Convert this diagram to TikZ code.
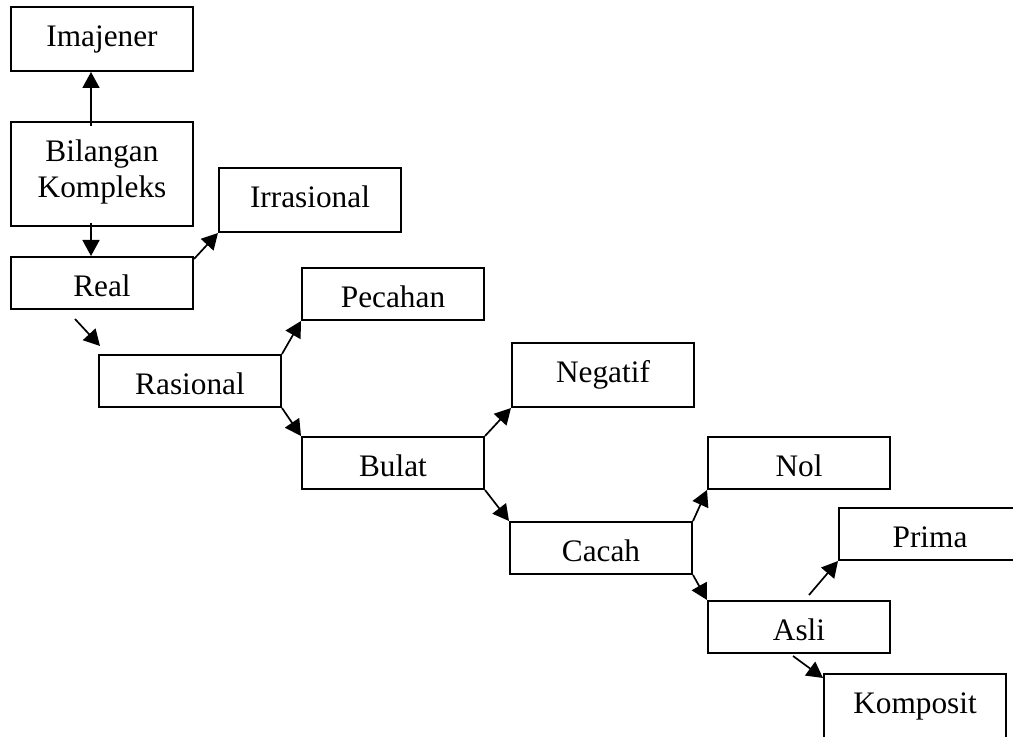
\documentclass[tikz,border=0pt]{standalone}
\usepackage{fontspec}
\setmainfont{Liberation Serif}
\usetikzlibrary{arrows.meta}

\begin{document}
\begin{tikzpicture}[
  x=0.5pt, y=-0.5pt,
  font=\fontsize{15.65}{18}\selectfont,
  box/.style={draw, line width=1pt, anchor=north west, inner sep=0pt, align=center,
    minimum width=91pt, minimum height=26pt, text height=19.7pt, text depth=6.3pt},
  tallbox/.style={box, minimum height=32pt, text depth=12.3pt},
  arrow/.style={-{Triangle[length=8pt,width=8.5pt]}, line width=0.85pt}
]
\useasboundingbox (0,0) rectangle (1013,737);
\clip (0,0) rectangle (1013,737);

\node[tallbox] (imajener) at (10,6) {Imajener};
\node[box, minimum height=52pt, text height=37.7pt, text depth=14.3pt] (bilangan) at (10,121) {Bilangan\\Kompleks};
\node[box] (real) at (10,256) {Real};
\node[tallbox] (irrasional) at (218,167) {Irrasional};
\node[box] (pecahan) at (301,267) {Pecahan};
\node[box] (rasional) at (98,354) {Rasional};
\node[box] (bulat) at (301,436) {Bulat};
\node[tallbox] (negatif) at (511,342) {Negatif};
\node[box] (cacah) at (509,521) {Cacah};
\node[box] (nol) at (707,436) {Nol};
\node[box] (prima) at (838,507) {Prima};
\node[box] (asli) at (707,600) {Asli};
\node[tallbox] (komposit) at (823,673) {Komposit};

\draw[arrow] ([xshift=-5.5pt, yshift=-2.5pt]bilangan.north) -- ([xshift=-5.5pt]imajener.south);
\draw[arrow] ([xshift=-5.5pt, yshift=2pt]bilangan.south) -- ([xshift=-5.5pt]real.north);
\draw[arrow] ([yshift=-1.5pt]real.north east) -- (irrasional.south west);
\draw[arrow] ([xshift=-13.5pt, yshift=-4.5pt]real.south) -- ([xshift=1pt, yshift=4pt]rasional.north west);
\draw[arrow] (rasional.north east) -- (pecahan.south west);
\draw[arrow] (rasional.south east) -- (bulat.north west);
\draw[arrow] (bulat.north east) -- (negatif.south west);
\draw[arrow] (bulat.south east) -- (cacah.north west);
\draw[arrow] (cacah.north east) -- (nol.south west);
\draw[arrow] (cacah.south east) -- (asli.north west);
\draw[arrow] ([xshift=5pt, yshift=2.5pt]asli.north) -- (prima.south west);
\draw[arrow] ([xshift=-3pt, yshift=-1pt]asli.south) -- ([yshift=-2.5pt]komposit.north west);

\end{tikzpicture}
\end{document}
